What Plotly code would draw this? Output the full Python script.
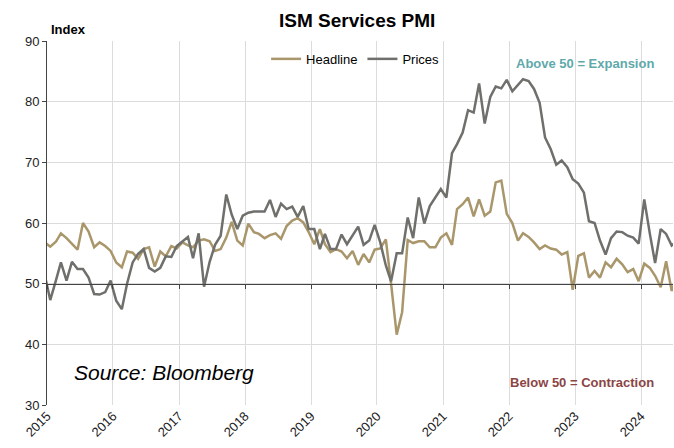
import pandas as pd
import plotly.graph_objects as go

# Monthly values, Dec 2014 .. Jul 2024 (first and last partly clipped by the axis range)
headline = [56.8,
    56.1, 56.9, 58.3, 57.5, 56.5, 55.6, 60.0, 58.6, 56.0, 56.8, 56.2, 55.4,
    53.5, 52.7, 55.3, 55.1, 54.1, 55.7, 56.0, 52.8, 55.3, 54.5, 56.2, 55.8,
    56.8, 56.3, 56.0, 57.1, 57.3, 57.0, 55.4, 55.7, 57.6, 60.2, 57.1, 56.3,
    59.9, 58.5, 58.2, 57.5, 58.0, 58.3, 57.4, 59.5, 60.4, 60.8, 60.1, 58.5,
    56.5, 59.0, 56.5, 55.2, 55.7, 55.3, 54.2, 55.4, 53.1, 54.9, 53.5, 55.6,
    55.8, 57.3, 50.0, 41.6, 45.3, 57.2, 56.7, 57.0, 57.0, 56.0, 56.0, 57.6,
    58.3, 56.4, 62.3, 63.1, 64.2, 61.1, 63.9, 61.2, 61.9, 66.7, 67.0, 61.5,
    60.0, 57.1, 58.3, 57.7, 56.8, 55.7, 56.3, 55.8, 55.6, 54.8, 55.2, 49.0,
    54.6, 55.0, 51.0, 52.1, 51.0, 53.5, 52.7, 54.1, 53.2, 51.9, 52.4, 50.4,
    53.3, 52.6, 51.3, 49.4, 53.7, 48.8, 51.4]

prices = [51.5,
    47.3, 50.5, 53.5, 50.5, 53.6, 52.4, 52.4, 51.0, 48.3, 48.2, 48.6, 50.5,
    47.2, 45.8, 50.0, 53.5, 54.9, 55.7, 52.6, 52.0, 52.6, 54.5, 54.4, 56.2,
    57.0, 57.7, 54.2, 58.3, 49.5, 53.6, 56.4, 57.9, 64.7, 61.4, 59.0, 61.2,
    61.7, 61.9, 61.9, 61.9, 63.8, 61.0, 63.2, 62.3, 62.7, 61.0, 62.8, 59.0,
    59.0, 55.7, 58.2, 55.7, 55.7, 58.1, 56.5, 57.9, 59.4, 56.4, 57.1, 59.7,
    56.8, 53.0, 50.4, 55.0, 55.0, 60.9, 57.5, 64.2, 59.9, 62.8, 64.2, 65.6,
    64.2, 71.5, 73.0, 74.9, 78.6, 78.2, 83.0, 76.4, 80.8, 82.5, 82.2, 83.6,
    81.7, 82.7, 83.7, 83.4, 82.1, 79.8, 74.1, 72.2, 69.6, 70.3, 69.2, 67.2,
    66.5, 65.0, 60.3, 60.0, 57.1, 54.8, 57.5, 58.6, 58.5, 57.9, 57.6, 56.6,
    63.9, 58.2, 53.4, 59.0, 58.2, 56.3, 57.0]

dates = pd.date_range("2014-12-01", periods=len(headline), freq="MS") + pd.Timedelta(days=18)

x_range = ["2015-01-01", "2024-06-26"]
y_range = [30, 90]
year_ticks = [f"{y}-01-01" for y in range(2015, 2025)]
year_labels = [str(y) for y in range(2015, 2025)]

TAN = "#a9966b"
GRAY = "#6f706c"
FONT = "Liberation Sans, Arial, sans-serif"

fig = go.Figure()
fig.add_trace(go.Scatter(x=dates, y=headline, name="Headline", mode="lines",
                         line=dict(color=TAN, width=2.5)))
fig.add_trace(go.Scatter(x=dates, y=prices, name="Prices", mode="lines",
                         line=dict(color=GRAY, width=2.5)))
# invisible carrier so the "50" axis line is rendered
fig.add_trace(go.Scatter(x=dates, y=headline, xaxis="x2", mode="lines", opacity=0,
                         showlegend=False, hoverinfo="skip", line=dict(width=0)))

fig.update_layout(
    width=674, height=448,
    margin=dict(l=47, r=1, t=41, b=43),
    paper_bgcolor="white", plot_bgcolor="white",
    font=dict(family=FONT, size=13, color="#111"),
    title=dict(text="<b>ISM Services PMI</b>", x=0.53, xref="container", xanchor="center",
               y=1 - 20 / 448, yanchor="middle", font=dict(size=19, color="#000", family=FONT)),
    xaxis=dict(type="date", range=x_range, tickmode="array", tickvals=year_ticks,
               ticktext=year_labels, tickangle=-45, showgrid=True, gridcolor="#dcdcdc",
               gridwidth=1, showline=False, ticks="", zeroline=False,
               tickfont=dict(size=13, color="#222")),
    xaxis2=dict(type="date", range=x_range, overlaying="x", anchor="free",
                position=(50 - y_range[0]) / (y_range[1] - y_range[0]),
                tickmode="array", tickvals=year_ticks, showticklabels=False,
                ticks="outside", ticklen=4, tickcolor="#444", showline=True,
                linecolor="#444", linewidth=1, showgrid=False, zeroline=False),
    yaxis=dict(range=y_range, dtick=10, showgrid=True, gridcolor="#dcdcdc", gridwidth=1,
               showline=True, linecolor="#444", linewidth=1, ticks="outside", ticklen=4,
               tickcolor="#444", zeroline=False, tickfont=dict(size=13, color="#222")),
    legend=dict(orientation="h", x=0.35, xanchor="left", y=0.992, yanchor="top",
                bgcolor="rgba(0,0,0,0)", font=dict(size=13, color="#000")),
    showlegend=True,
)

fig.add_annotation(text="<b>Index</b>", xref="paper", yref="paper", x=0.003, y=1.032,
                   xanchor="left", yanchor="middle", showarrow=False,
                   font=dict(size=13, color="#000"))
fig.add_annotation(text="<b>Above 50 = Expansion</b>", xref="paper", yref="paper",
                   x=0.859, y=0.939, xanchor="center", yanchor="middle", showarrow=False,
                   font=dict(size=13, color="#5fa9ab"))
fig.add_annotation(text="<b>Below 50 = Contraction</b>", xref="paper", yref="paper",
                   x=0.855, y=0.062, xanchor="center", yanchor="middle", showarrow=False,
                   font=dict(size=13, color="#8b4545"))
fig.add_annotation(text="<i>Source: Bloomberg</i>", xref="paper", yref="paper",
                   x=0.04, y=0.09, xanchor="left", yanchor="middle", showarrow=False,
                   font=dict(size=21, color="#000"))

fig.write_html("out.html")
